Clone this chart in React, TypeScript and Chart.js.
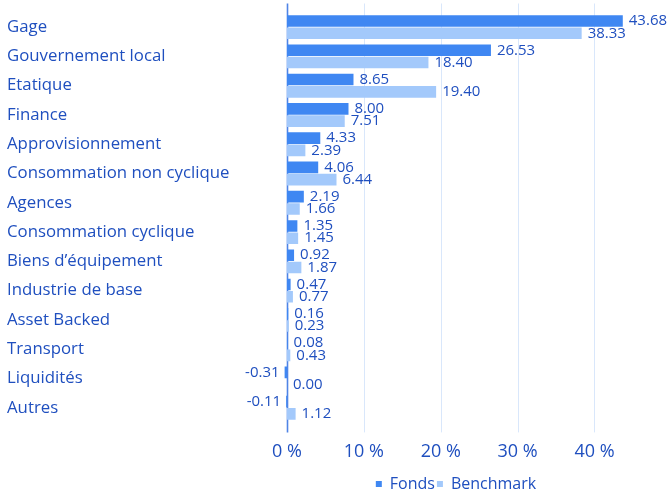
import { useEffect, useRef } from "react";
import { Chart, registerables } from "chart.js";

Chart.register(...registerables);

const categories = [
  "Gage",
  "Gouvernement local",
  "Etatique",
  "Finance",
  "Approvisionnement",
  "Consommation non cyclique",
  "Agences",
  "Consommation cyclique",
  "Biens d’équipement",
  "Industrie de base",
  "Asset Backed",
  "Transport",
  "Liquidités",
  "Autres",
];
const fondsValues = [43.68, 26.53, 8.65, 8.0, 4.33, 4.06, 2.19, 1.35, 0.92, 0.47, 0.16, 0.08, -0.31, -0.11];
const benchmarkValues = [38.33, 18.4, 19.4, 7.51, 2.39, 6.44, 1.66, 1.45, 1.87, 0.77, 0.23, 0.43, 0.0, 1.12];
const xTickValues = [0, 10, 20, 30, 40];
const seriesNames = ["Fonds", "Benchmark"];

const TEXT = "#1f4fbf";
const DARK = "#3f87f2";
const LIGHT = "#a3c9fb";
const FONT = "'Open Sans', 'Noto Sans', sans-serif";

const gridPlugin = {
  id: "customGrid",
  beforeDatasetsDraw(chart: any) {
    const { ctx, chartArea, scales } = chart;
    const x = scales.x;
    ctx.save();
    xTickValues.forEach((v) => {
      const px = Math.round(x.getPixelForValue(v)) + 0.5;
      ctx.beginPath();
      ctx.strokeStyle = v === 0 ? "#4f84e6" : "#d9e7fb";
      ctx.lineWidth = v === 0 ? 1.6 : 1;
      ctx.moveTo(px, chartArea.top - 9);
      ctx.lineTo(px, chartArea.bottom + 10);
      ctx.stroke();
    });
    ctx.restore();
  },
};

const labelPlugin = {
  id: "valueLabels",
  afterDatasetsDraw(chart: any) {
    const { ctx } = chart;
    ctx.save();
    ctx.font = `15px ${FONT}`;
    ctx.fillStyle = TEXT;
    ctx.textBaseline = "middle";
    chart.data.datasets.forEach((ds: any, di: number) => {
      const meta = chart.getDatasetMeta(di);
      meta.data.forEach((el: any, i: number) => {
        const v = ds.data[i] as number;
        const txt = v.toFixed(2);
        if (v < 0) {
          ctx.textAlign = "right";
          ctx.fillText(txt, el.x - 5, el.y);
        } else {
          ctx.textAlign = "left";
          ctx.fillText(txt, el.x + 6, el.y);
        }
      });
    });
    ctx.restore();
  },
};

const legendShift = {
  id: "legendShift",
  afterLayout(chart: any) {
    const lg = chart.legend;
    if (lg) {
      lg.left -= 13;
      lg.right -= 13;
    }
  },
};

export default function App() {
  const ref = useRef<HTMLCanvasElement | null>(null);
  useEffect(() => {
    if (!ref.current) return;
    const chart = new Chart(ref.current, {
      type: "bar",
      data: {
        labels: categories,
        datasets: [
          {
            label: seriesNames[0],
            data: fondsValues,
            backgroundColor: DARK,
            categoryPercentage: 0.838,
            barPercentage: 0.946,
          },
          {
            label: seriesNames[1],
            data: benchmarkValues,
            backgroundColor: LIGHT,
            categoryPercentage: 0.838,
            barPercentage: 0.946,
          },
        ],
      },
      options: {
        indexAxis: "y",
        animation: false,
        responsive: true,
        maintainAspectRatio: false,
        layout: { padding: { left: 7, right: 14, top: 12.5, bottom: -9 } },
        scales: {
          x: {
            min: -0.65,
            max: 48,
            afterBuildTicks: (axis: any) => {
              axis.ticks = xTickValues.map((v) => ({ value: v }));
            },
            grid: { display: false },
            border: { display: false },
            ticks: {
              padding: 11,
              color: TEXT,
              font: { family: FONT, size: 18 },
              callback: (v: any) => `${v} %`,
            },
          },
          y: {
            afterFit: (scale: any) => {
              scale.width = 275;
            },
            grid: { display: false },
            border: { display: false },
            ticks: {
              crossAlign: "far",
              color: TEXT,
              font: { family: FONT, size: 16.8 },
              padding: 0,
            },
          },
        },
        plugins: {
          legend: {
            position: "bottom",
            fullSize: false,
            labels: {
              color: TEXT,
              font: { family: FONT, size: 16 },
              usePointStyle: true,
              pointStyle: "rect",
              boxWidth: 6,
              boxHeight: 6,
              padding: 2,
            },
          },
          tooltip: { enabled: false },
        },
      },
      plugins: [gridPlugin, labelPlugin, legendShift],
    });
    return () => chart.destroy();
  }, []);
  return (
    <div style={{ position: "absolute", left: 0, top: 0, width: 670, height: 493 }}>
      <canvas ref={ref} />
    </div>
  );
}
